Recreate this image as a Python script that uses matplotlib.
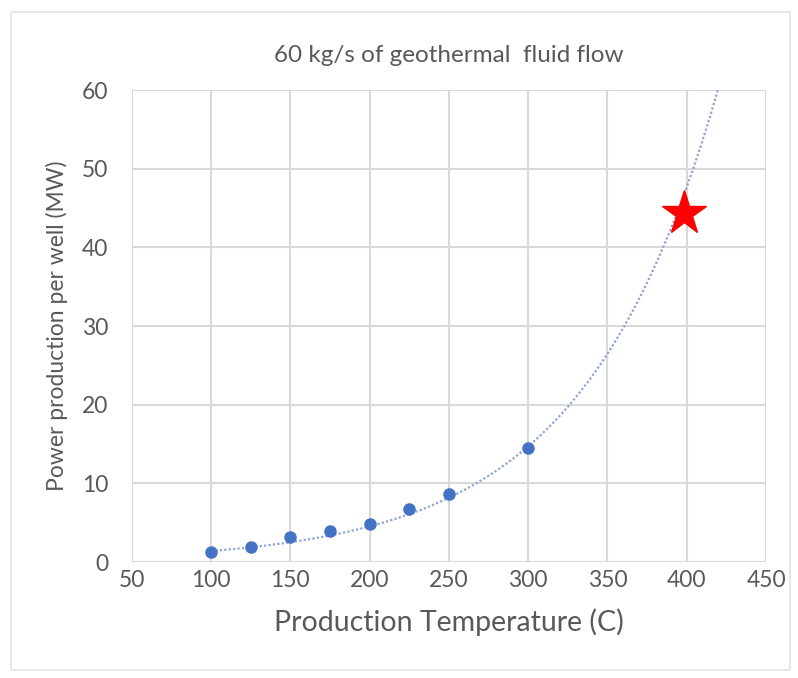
import matplotlib as mpl
import matplotlib.pyplot as plt
import numpy as np
from matplotlib.patches import Rectangle

# measured points (production temperature in C, power per well in MW)
temp_c = [100, 125, 150, 175, 200, 225, 250, 300]
power_mw = [1.23, 1.94, 3.2, 3.97, 4.9, 6.8, 8.6, 14.5]

# exponential trendline shown in the chart: y = a * exp(b * x)
trend_a = 0.432
trend_b = 0.01176
trend_x_range = [100, 425]

# highlighted target point
star_temp = [398]
star_power = [44.4]

x_ticks = [50, 100, 150, 200, 250, 300, 350, 400, 450]
y_ticks = [0, 10, 20, 30, 40, 50, 60]

GREY_TXT = "#595959"
GRID = "#d9d9d9"
BLUE = "#4472c4"

mpl.rcParams.update({"font.family": ["Lato", "DejaVu Sans"]})

fig = plt.figure(figsize=(7.98, 6.78), dpi=100)
fig.patches.append(Rectangle((0.014, 0.012), 0.976, 0.971, transform=fig.transFigure,
                             fill=False, edgecolor="#e3e3e3", lw=1.2))
ax = fig.add_axes([0.165, 0.171, 0.795, 0.696])

tx = np.linspace(*trend_x_range, 300)
ax.plot(tx, trend_a * np.exp(trend_b * tx), ls=(0, (1, 1)), color="#8fa3d6", lw=1.6, zorder=2)
ax.plot(temp_c, power_mw, "o", color=BLUE, ms=8, mec=BLUE, zorder=3)
ax.plot(star_temp, star_power, "*", color="#ff0000", ms=33, mec="#ff0000", zorder=4)

ax.set_xlim(50, 450)
ax.set_ylim(0, 60)
ax.set_xticks(x_ticks)
ax.set_yticks(y_ticks)
ax.grid(True, color=GRID, lw=1.5)
ax.set_axisbelow(True)
for s in ax.spines.values():
    s.set_visible(False)
ax.tick_params(length=0, labelsize=16.5, labelcolor=GREY_TXT)
ax.tick_params(axis="x", pad=6)
ax.tick_params(axis="y", pad=17)

ax.set_xlabel("Production Temperature (C)", fontsize=20.5, color=GREY_TXT, labelpad=12)
ax.set_ylabel("Power production per well (MW)", fontsize=16.5, color=GREY_TXT, labelpad=10)
ax.set_title("60 kg/s of geothermal  fluid flow", fontsize=17.5, color=GREY_TXT, pad=20)

fig.savefig("out.png", dpi=100)
